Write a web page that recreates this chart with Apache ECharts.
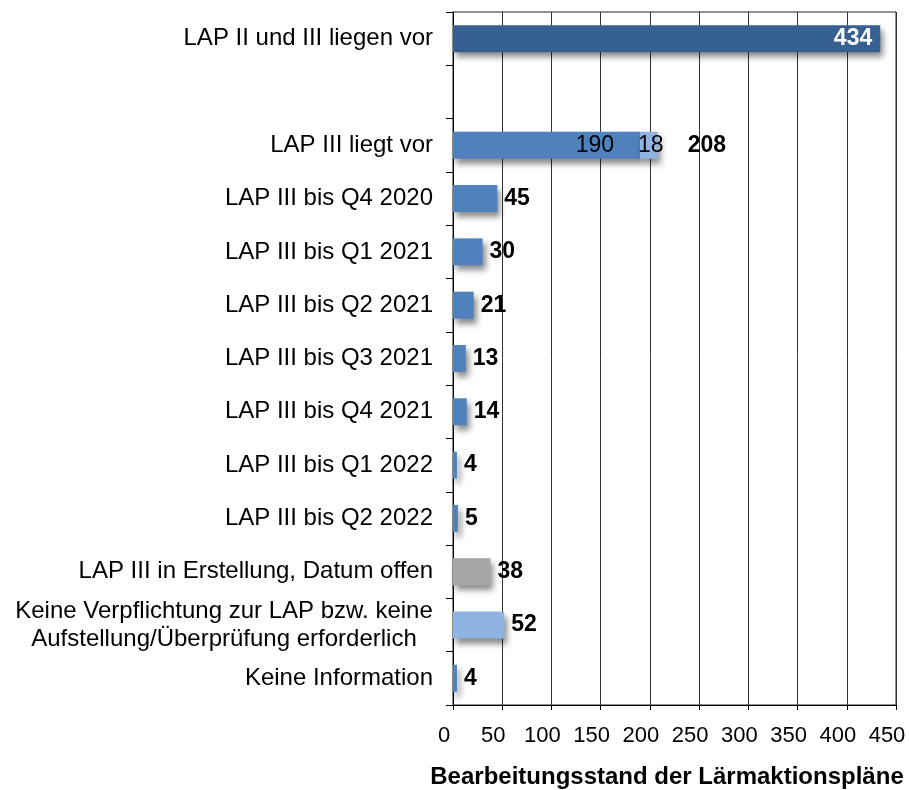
<!DOCTYPE html>
<html lang="de">
<head>
<meta charset="UTF-8">
<title>Bearbeitungsstand der Lärmaktionspläne</title>
<style>
  html, body { margin: 0; padding: 0; background: #fff; }
  #chart { width: 909px; height: 790px; }
</style>
</head>
<body>
<div id="chart"></div>
<script src="https://cdn.jsdelivr.net/npm/echarts@6/dist/echarts.min.js"></script>
<script>
// Kategorien (von oben nach unten), leere Zeile als Abstand
var categories = [
  'LAP II und III liegen vor',
  '',
  'LAP III liegt vor',
  'LAP III bis Q4 2020',
  'LAP III bis Q1 2021',
  'LAP III bis Q2 2021',
  'LAP III bis Q3 2021',
  'LAP III bis Q4 2021',
  'LAP III bis Q1 2022',
  'LAP III bis Q2 2022',
  'LAP III in Erstellung, Datum offen',
  'Keine Verpflichtung zur LAP bzw. keine\nAufstellung/Überprüfung erforderlich',
  'Keine Information'
]
// Hauptwerte
var mainValues = [434, null, 190, 45, 30, 21, 13, 14, 4, 5, 38, 52, 4]
// Zusatzsegment (gestapelt)
var extraValues = [null, null, 18, null, null, null, null, null, null, null, null, null, null]
// Achsenbeschriftung
var xTicks = { min: 0, max: 450, step: 50 }

var barColors = ['#376092', '#4f81bd', '#4f81bd', '#4f81bd', '#4f81bd', '#4f81bd', '#4f81bd',
  '#4f81bd', '#4f81bd', '#4f81bd', '#a6a6a6', '#8db4e2', '#4f81bd']

var font = '"Liberation Sans", Arial, sans-serif'
var shadow = {
  shadowBlur: 6,
  shadowOffsetX: 3,
  shadowOffsetY: 5,
  shadowColor: 'rgba(0,0,0,0.45)'
}

var mainData = mainValues.map(function (v, i) {
  var label
  if (i === 0) {
    label = { show: true, position: 'insideRight', distance: 8, color: '#fff', fontWeight: 'bold' }
  } else if (extraValues[i] != null) {
    label = { show: true, position: 'insideRight', distance: 26, color: '#000', fontWeight: 'normal' }
  } else {
    label = { show: true, position: 'right', distance: 7, color: '#000', fontWeight: 'bold' }
  }
  label.fontSize = 23
  label.fontFamily = font
  return {
    value: v,
    itemStyle: Object.assign({ color: barColors[i] }, shadow),
    label: label
  }
})

var extraData = extraValues.map(function (v, i) {
  if (v == null) return null
  var total = mainValues[i] + v
  return {
    value: v,
    label: {
      show: true,
      position: 'insideLeft',
      distance: -2,
      formatter: '{n|' + v + '}{b|' + total + '}',
      rich: {
        n: { fontSize: 23, fontFamily: font, color: '#000' },
        b: { fontSize: 23, fontFamily: font, color: '#000', fontWeight: 'bold', padding: [0, 0, 0, 24] }
      }
    }
  }
})

var chart = echarts.init(document.getElementById('chart'))
chart.setOption({
  animation: false,
  grid: {
    left: 453, right: 13, top: 12, bottom: 85,
    outerBoundsMode: 'none',
    show: true, borderColor: '#222', borderWidth: 1
  },
  xAxis: {
    type: 'value',
    min: xTicks.min,
    max: xTicks.max,
    interval: xTicks.step,
    name: 'Bearbeitungsstand der Lärmaktionspläne',
    nameLocation: 'middle',
    nameGap: 60,
    nameTextStyle: { fontSize: 24, fontWeight: 'bold', color: '#000', fontFamily: font, padding: [0, 15, 0, 0] },
    axisLine: { show: true, lineStyle: { color: '#000', width: 1 } },
    axisTick: { show: true, length: 5, lineStyle: { color: '#000' } },
    axisLabel: { fontSize: 22, color: '#000', fontFamily: font, margin: 20, padding: [0, 18, 0, 0] },
    splitLine: { show: true, lineStyle: { color: '#333', width: 1 } }
  },
  yAxis: {
    type: 'category',
    inverse: true,
    data: categories,
    axisLine: { show: true, lineStyle: { color: '#000', width: 1 } },
    axisTick: { show: true, length: 7, lineStyle: { color: '#000' } },
    axisLabel: {
      fontSize: 24,
      color: '#000',
      fontFamily: font,
      margin: 20,
      align: 'right',
      formatter: function (val) {
        if (val.indexOf('\n') < 0) return val
        return val.split('\n').map(function (s) { return '{c|' + s + '}' }).join('\n')
      },
      rich: {
        c: { fontSize: 24, fontFamily: font, color: '#000', width: 418, align: 'center', lineHeight: 28 }
      }
    },
    splitLine: { show: false }
  },
  series: [
    {
      type: 'bar',
      stack: 'total',
      barWidth: 27,
      data: mainData
    },
    {
      type: 'bar',
      stack: 'total',
      barWidth: 27,
      itemStyle: Object.assign({ color: '#8db4e2' }, shadow),
      data: extraData
    }
  ]
})
</script>
</body>
</html>
